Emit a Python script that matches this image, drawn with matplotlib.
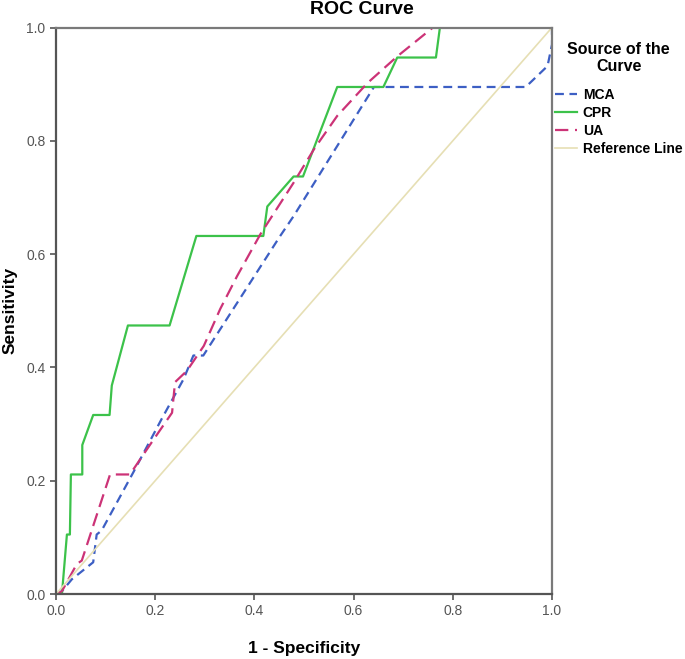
import matplotlib
matplotlib.use("Agg")
import matplotlib.pyplot as plt

plt.rcParams['font.family'] = ['Liberation Sans', 'DejaVu Sans']

# ROC points (1 - specificity, sensitivity)
mca_x = [0, 0.012, 0.032, 0.075, 0.082, 0.092, 0.156, 0.213, 0.257, 0.277, 0.297,
         0.452, 0.479, 0.641, 0.947, 0.991, 1.0, 1.0]
mca_y = [0, 0.005, 0.026, 0.056, 0.105, 0.112, 0.215, 0.309, 0.379, 0.421, 0.421,
         0.632, 0.667, 0.895, 0.895, 0.932, 0.97, 1.0]

cpr_x = [0, 0.012, 0.022, 0.028, 0.030, 0.053, 0.053, 0.075, 0.108, 0.1125, 0.145,
         0.229, 0.283, 0.418, 0.426, 0.479, 0.498, 0.567, 0.660, 0.688, 0.766, 0.774, 1.0]
cpr_y = [0, 0, 0.105, 0.105, 0.211, 0.211, 0.263, 0.316, 0.316, 0.368, 0.474,
         0.474, 0.632, 0.632, 0.684, 0.737, 0.737, 0.895, 0.895, 0.947, 0.947, 1.0, 1.0]

ua_x = [0, 0.012, 0.042, 0.052, 0.109, 0.149, 0.197, 0.234, 0.240, 0.264, 0.298,
        0.331, 0.365, 0.412, 0.479, 0.520, 0.567, 0.628, 0.688, 0.760, 1.0]
ua_y = [0, 0.005, 0.053, 0.059, 0.211, 0.211, 0.273, 0.320, 0.374, 0.394, 0.438,
        0.503, 0.561, 0.635, 0.726, 0.785, 0.844, 0.902, 0.949, 1.0, 1.0]

ref_x = [0, 1]
ref_y = [0, 1]

ticks = [0.0, 0.2, 0.4, 0.6, 0.8, 1.0]
tick_labels = ["0.0", "0.2", "0.4", "0.6", "0.8", "1.0"]

fig = plt.figure(figsize=(6.85, 6.59), dpi=100)
ax = fig.add_axes([56 / 685, 65 / 659, 496 / 685, 566.5 / 659])

ax.plot(mca_x, mca_y, color="#3d5fc4", lw=1.6, dashes=(4, 2.5), label="MCA")
ax.plot(cpr_x, cpr_y, color="#3cc24a", lw=1.6, label="CPR")
ax.plot(ua_x, ua_y, color="#cc3377", lw=1.6, dashes=(6, 3), label="UA")
ax.plot(ref_x, ref_y, color="#e6dfb4", lw=1.2, label="Reference Line")

ax.set_xlim(0, 1)
ax.set_ylim(0, 1)
ax.set_xticks(ticks)
ax.set_xticklabels(tick_labels)
ax.set_yticks(ticks)
ax.set_yticklabels(tick_labels)
ax.tick_params(direction="out", length=4, width=1.2, color="#555555",
               labelcolor="#555555", labelsize=10)
for s in ax.spines.values():
    s.set_color("#7a7a7a")
    s.set_linewidth(1.6)
ax.spines["left"].set_color("#555555")
ax.spines["bottom"].set_color("#555555")

# title is centred over plot + legend in the original
fig.text(362 / 685, 1 - 10 / 659, "ROC Curve", ha="center", va="center",
         fontsize=14, fontweight="bold")
ax.set_xlabel("1 - Specificity", fontsize=12.5, fontweight="bold", labelpad=16)
ax.set_ylabel("Sensitivity", fontsize=12.5, fontweight="bold", labelpad=6)

leg = ax.legend(loc="upper left", bbox_to_anchor=(0.995, 0.985), frameon=False,
                title="Source of the\nCurve", handlelength=1.6, handletextpad=0.4,
                labelspacing=0.3, borderaxespad=0,
                prop={"weight": "bold", "size": 10})
leg.get_title().set_fontweight("bold")
leg.get_title().set_fontsize(11.5)
leg.get_title().set_multialignment("center")
leg._legend_box.sep = 10

fig.savefig("out.png", dpi=100)
